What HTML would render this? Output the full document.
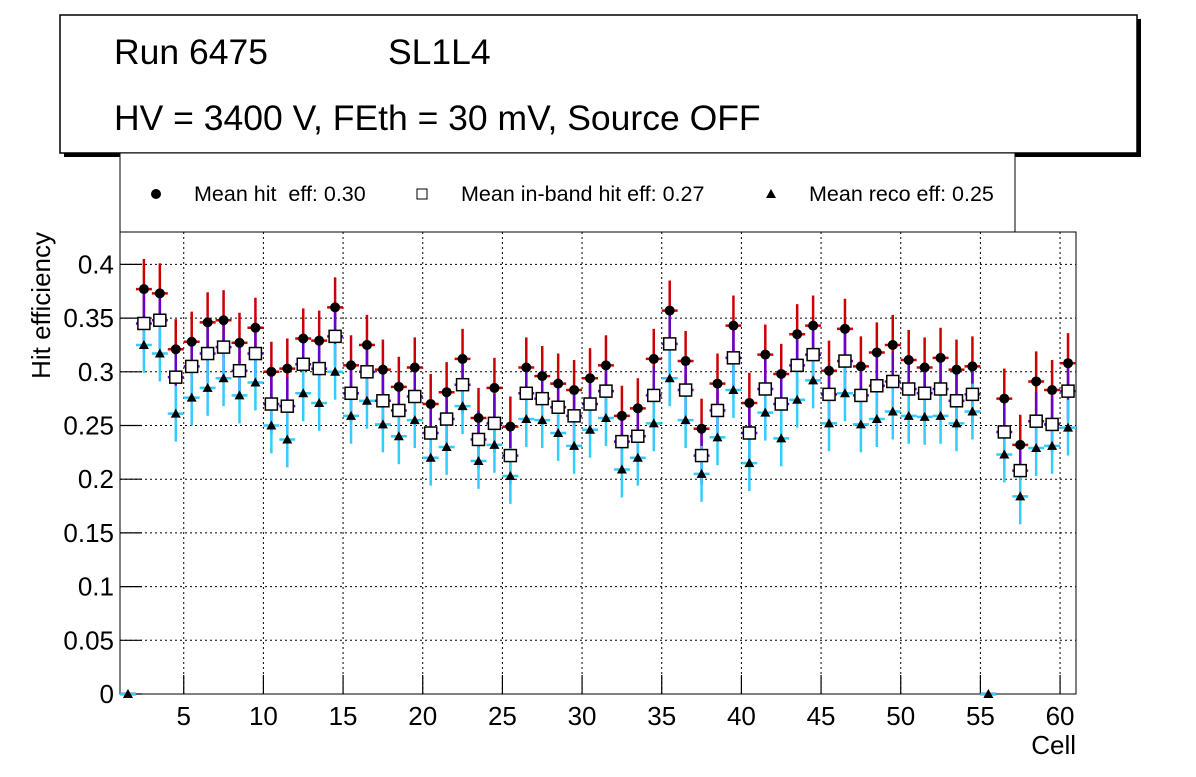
<!DOCTYPE html>
<html><head><meta charset="utf-8"><style>
body{margin:0;background:#fff;width:1196px;height:772px;overflow:hidden;font-family:"Liberation Sans",sans-serif}
</style></head><body>
<svg id="chart" width="1196" height="772" xmlns="http://www.w3.org/2000/svg" font-family="Liberation Sans, sans-serif">
<g>
<rect x="64" y="19" width="1077" height="138" fill="#000"/>
<rect x="60" y="15" width="1077" height="138" fill="#fff" stroke="#000" stroke-width="1.5"/>
<text x="114" y="64" font-size="35.5">Run 6475</text>
<text x="388" y="64" font-size="35.5">SL1L4</text>
<text x="114" y="130" font-size="35.5">HV = 3400 V, FEth = 30 mV, Source OFF</text>
</g>
<g>
<rect x="120" y="153" width="895" height="79" fill="#fff" stroke="#000" stroke-width="1"/>
<circle cx="156" cy="194" r="5" fill="#000"/>
<text x="194" y="201" font-size="21.5" xml:space="preserve">Mean hit  eff: 0.30</text>
<rect x="417" y="189" width="10" height="10" fill="#fff" stroke="#000"/>
<text x="461" y="201" font-size="21.5">Mean in-band hit eff: 0.27</text>
<path d="M771,189 L776,198 L766,198 Z" fill="#000"/>
<text x="809" y="201" font-size="21.5">Mean reco eff: 0.25</text>
</g>
<g id="plot"></g>
<text x="1076" y="754" font-size="26" text-anchor="end">Cell</text>
<text transform="translate(50,232) rotate(-90)" font-size="26" text-anchor="end">Hit efficiency</text>
</svg>
<script>
const cells=[];for(let c=1;c<=60;c++)cells.push(c);
const hitEff=[0,.377,.373,.321,.328,.346,.348,.327,.341,.300,.303,.331,.329,.360,.306,.325,.302,.286,.304,.270,.281,.312,.257,.285,.249,.304,.296,.289,.283,.294,.306,.259,.266,.312,.357,.310,.247,.289,.343,.271,.316,.298,.335,.343,.301,.340,.305,.318,.325,.311,.304,.313,.302,.305,0,.275,.232,.291,.283,.308];
const inbandEff=[0,.345,.348,.295,.305,.317,.323,.301,.317,.270,.268,.307,.303,.333,.280,.300,.273,.264,.277,.243,.256,.288,.237,.252,.222,.280,.275,.267,.259,.270,.282,.235,.240,.278,.326,.283,.222,.264,.313,.243,.284,.270,.306,.316,.279,.310,.278,.287,.291,.284,.280,.284,.273,.279,0,.244,.208,.254,.251,.282];
const recoEff=[0,.325,.317,.261,.276,.285,.294,.278,.290,.250,.237,.280,.271,.300,.259,.273,.251,.240,.255,.220,.230,.268,.217,.232,.203,.256,.255,.243,.231,.246,.257,.209,.220,.252,.294,.255,.205,.239,.283,.215,.262,.238,.274,.292,.252,.280,.251,.256,.263,.259,.258,.259,.252,.263,0,.223,.184,.229,.231,.248];
const errHit=0.028, errInband=0.027, errReco=0.026;
const yTicks=[0,0.05,0.1,0.15,0.2,0.25,0.3,0.35,0.4];
const yTickLabels=["0","0.05","0.1","0.15","0.2","0.25","0.3","0.35","0.4"];
const xTicks=[5,10,15,20,25,30,35,40,45,50,55,60];

const L=120,R=1076,T=232,B=694;
const xs=v=>L+(v-1)*(R-L)/60;
const ys=v=>B-v*1074;
const g=document.getElementById('plot');
const NS='http://www.w3.org/2000/svg';
function mk(tag,attrs,parent){const e=document.createElementNS(NS,tag);for(const k in attrs)e.setAttribute(k,attrs[k]);(parent||g).appendChild(e);return e;}
const frame=mk('rect',{x:L,y:T,width:R-L,height:B-T,fill:'#fff',stroke:'#000','stroke-width':1});


yTicks.forEach((t,i)=>{
 const y=ys(t);
 if(t>0){const gl=mk('line',{x1:L,x2:R,y1:y,y2:y,stroke:'#000','stroke-dasharray':'2,3','stroke-width':1});
 
 }
 const tk=mk('line',{x1:L,x2:L+22,y1:y,y2:y,stroke:'#000','stroke-width':1.2});
 
 
 const tx=mk('text',{x:L-6,y:y+9,'font-size':26,'text-anchor':'end'});tx.textContent=yTickLabels[i];
 
 
});
xTicks.forEach(t=>{
 const x=xs(t);
 const gl=mk('line',{x1:x,x2:x,y1:T,y2:B,stroke:'#000','stroke-dasharray':'2,3','stroke-width':1});
 
 
 const tk=mk('line',{x1:x,x2:x,y1:B,y2:B-19,stroke:'#000','stroke-width':1.2});
 
 
 const tx=mk('text',{x:x,y:B+31,'font-size':26,'text-anchor':'middle'});tx.textContent=t;
 
 
});
const hw=(R-L)/120;
function bar(c,v,e,col){
 const x=xs(c+0.5);
 if(v>0){const l=mk('line',{x1:x,x2:x,y1:ys(v-e),y2:ys(v+e),stroke:col,'stroke-width':2.5});
 
 }
 const h=mk('line',{x1:x-hw,x2:x+hw,y1:ys(v),y2:ys(v),stroke:col,'stroke-width':2.5});
 
 
}
cells.forEach((c,i)=>bar(c,hitEff[i],errHit,'#cc0000'));
cells.forEach((c,i)=>bar(c,inbandEff[i],errInband,'#6600cc'));
cells.forEach((c,i)=>bar(c,recoEff[i],errReco,'#33ccff'));
cells.forEach((c,i)=>{
 const x=xs(c+0.5);
 const p=mk('path',{d:`M${x},${ys(recoEff[i])-5} L${x+5},${ys(recoEff[i])+4} L${x-5},${ys(recoEff[i])+4} Z`,fill:'#000'});
 
 
 if(hitEff[i]>0){
 const s=mk('rect',{x:x-6,y:ys(inbandEff[i])-6,width:12,height:12,fill:'#fff',stroke:'#000','stroke-width':1.5});
 
 
 const d=mk('circle',{cx:x,cy:ys(hitEff[i]),r:5,fill:'#000'});
 
 
 }
});
</script>
</body></html>
